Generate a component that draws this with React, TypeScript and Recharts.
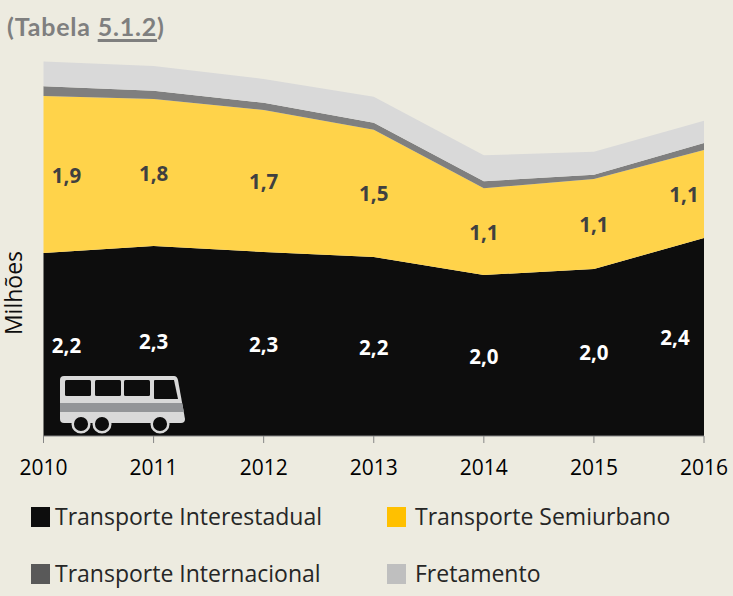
import { ComposedChart, Area, Line, XAxis, YAxis, LabelList } from "recharts";

const years = ["2010", "2011", "2012", "2013", "2014", "2015", "2016"];
const interestadual = [2.215, 2.3, 2.228, 2.167, 1.949, 2.022, 2.397];
const semiurbano = [1.9, 1.78, 1.72, 1.54, 1.05, 1.09, 1.065];
const internacional = [0.12, 0.1, 0.085, 0.085, 0.085, 0.05, 0.085];
const fretamento = [0.3, 0.3, 0.29, 0.315, 0.315, 0.28, 0.27];
const interestadualLabels = ["2,2", "2,3", "2,3", "2,2", "2,0", "2,0", "2,4"];
const semiurbanoLabels = ["1,9", "1,8", "1,7", "1,5", "1,1", "1,1", "1,1"];

const legendItems = [
  { name: "Transporte Interestadual", color: "#0D0D0D", x: 31, tx: 55, y: 517 },
  { name: "Transporte Semiurbano", color: "#FFC000", x: 387, tx: 415, y: 517 },
  { name: "Transporte Internacional", color: "#595959", x: 31, tx: 55, y: 574 },
  { name: "Fretamento", color: "#BFBFBF", x: 387, tx: 415, y: 574 },
];

const data = years.map((year, i) => ({
  year,
  interestadual: interestadual[i],
  semiurbano: semiurbano[i],
  internacional: internacional[i],
  fretamento: fretamento[i],
  midInter: interestadual[i] / 2,
  midSemi: interestadual[i] + semiurbano[i] / 2,
}));

const FONT = "'Open Sans', sans-serif";

function ValueLabel({ x, y, index, labels, fill, lastNudge }: any) {
  // first and last labels sit inside the plot
  const nudge = index === 0 ? 23 : index === years.length - 1 ? lastNudge : 0;
  return (
    <text x={x + nudge} y={y} fill={fill} fontFamily={FONT} fontSize={20.5} fontWeight={700}
      textAnchor="middle" dominantBaseline="central">
      {labels[index]}
    </text>
  );
}

function BusIcon() {
  const wheels = [81, 102, 160];
  const windows = [65, 95, 124];
  return (
    <svg width={733} height={596} style={{ position: "absolute", left: 0, top: 0, pointerEvents: "none" }}>
      <text transform="translate(22,293) rotate(-90)" textAnchor="middle" fontFamily={FONT} fontSize={23} fill="#0D0D0D">
        Milhões
      </text>
      <path d="M64 376 H174 Q177 376 178 380 L185 419 Q185 423 181 423 H64 Q60 423 60 419 V380 Q60 376 64 376 Z" fill="#D9D9D9" />
      <path d="M60 403 H182 L184 412 H60 Z" fill="#939598" />
      {windows.map(wx => (
        <rect key={wx} x={wx} y={380} width={26} height={16} rx={1.5} fill="#0D0D0D" />
      ))}
      <path d="M155 380 H174 L178 399 H155 Q154 399 154 398 V381 Q154 380 155 380 Z" fill="#0D0D0D" />
      {wheels.map(cx => (
        <circle key={cx} cx={cx} cy={424} r={8.3} fill="#0D0D0D" stroke="#D9D9D9" strokeWidth={2.5} />
      ))}
    </svg>
  );
}

export default function App() {
  return (
    <div style={{ position: "fixed", left: 0, top: 0, width: 733, height: 596, background: "#EDEBE0", overflow: "hidden" }}>
      <div style={{ position: "absolute", left: 7, top: 10, color: "#7F7F7F", fontFamily: "Lato, sans-serif", fontWeight: 700, fontSize: 25, letterSpacing: 0.8, lineHeight: "32px" }}>
        (Tabela <u style={{ textDecorationThickness: 3, textUnderlineOffset: 3 }}>5.1.2</u>)
      </div>
      <ComposedChart width={733} height={596} data={data} margin={{ top: 23, right: 29, bottom: 110, left: 0 }}>
        <XAxis dataKey="year" scale="point" interval={0} height={50} stroke="#868686"
          tickSize={7} tickMargin={17} tick={{ fill: "#000000", fontFamily: FONT, fontSize: 21 }} />
        <YAxis domain={[0, 5]} width={43.5} tick={false} axisLine={false} tickLine={false} />
        <Area dataKey="interestadual" stackId="a" type="linear" fill="#0D0D0D" fillOpacity={1} stroke="none" isAnimationActive={false} />
        <Area dataKey="semiurbano" stackId="a" type="linear" fill="#FFD34A" fillOpacity={1} stroke="none" isAnimationActive={false} />
        <Area dataKey="internacional" stackId="a" type="linear" fill="#7F7F7F" fillOpacity={1} stroke="none" isAnimationActive={false} />
        <Area dataKey="fretamento" stackId="a" type="linear" fill="#D9D9D9" fillOpacity={1} stroke="none" isAnimationActive={false} />
        <Line dataKey="midInter" stroke="none" dot={false} activeDot={false} isAnimationActive={false}>
          <LabelList content={(p: any) => <ValueLabel {...p} labels={interestadualLabels} fill="#FFFFFF" lastNudge={-29} />} />
        </Line>
        <Line dataKey="midSemi" stroke="none" dot={false} activeDot={false} isAnimationActive={false}>
          <LabelList content={(p: any) => <ValueLabel {...p} labels={semiurbanoLabels} fill="#404040" lastNudge={-20} />} />
        </Line>
      </ComposedChart>
      <BusIcon />
      {legendItems.map(item => (
        <div key={item.name}>
          <div style={{ position: "absolute", left: item.x, top: item.y - 10, width: 19, height: 20, background: item.color }} />
          <div style={{ position: "absolute", left: item.tx, top: item.y - 16, fontFamily: FONT, fontSize: 23, lineHeight: "30px", color: "#262626", whiteSpace: "nowrap" }}>
            {item.name}
          </div>
        </div>
      ))}
    </div>
  );
}
